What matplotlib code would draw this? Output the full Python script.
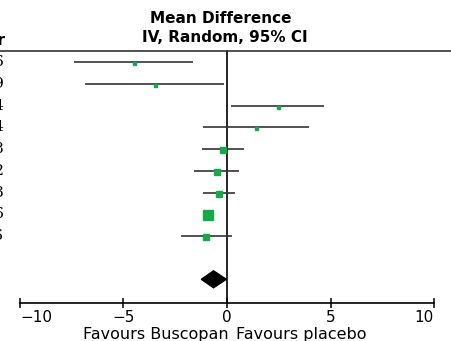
import matplotlib
matplotlib.use("Agg")
import matplotlib.pyplot as plt
from matplotlib.lines import Line2D
from matplotlib.patches import Polygon

# ---- data ----
years = ["1976", "1979", "1984", "1984", "1988", "1992", "1993", "1996", "2006"]
md = [-4.49, -3.48, 2.45, 1.40, -0.21, -0.50, -0.40, -0.90, -1.02]
ci_low = [-7.37, -6.86, 0.21, -1.18, -1.23, -1.60, -1.18, -1.05, -2.24]
ci_high = [-1.62, -0.13, 4.71, 3.97, 0.82, 0.58, 0.39, -0.75, 0.24]
weights = [1.6, 1.6, 1.6, 1.6, 3.0, 3.0, 3.4, 5.0, 3.0]  # relative square size
pooled = [-0.65, -1.24, -0.03]  # estimate, low, high
xticks = [-10, -5, 0, 5, 10]
xticklabels = ["\u221210", "\u22125", "0", "5", "10"]

W, H = 451, 341
fig = plt.figure(figsize=(W / 100, H / 100), dpi=100)

green = "#14aa48"

left_px, right_px = 20.0, 434.0
top_px, bot_px = 50.7, 303.3
ax = fig.add_axes([left_px / W, (H - bot_px) / H, (right_px - left_px) / W, (bot_px - top_px) / H])
row_h = 21.7
y_top = 1 - (62.3 - top_px) / row_h
y_bot = 1 + (bot_px - 62.3) / row_h
ax.set_xlim(-10, 10)
ax.set_ylim(y_bot, y_top)

for s in ["top", "left", "right"]:
    ax.spines[s].set_visible(False)
ax.spines["bottom"].set_linewidth(1.2)
ax.set_yticks([])
ax.set_xticks(xticks)
ax.set_xticklabels(xticklabels, fontsize=11)
ax.tick_params(axis="x", direction="inout", length=7, width=1.1, pad=1)
labs = ax.get_xticklabels()
labs[0].set_horizontalalignment("left")
labs[-1].set_horizontalalignment("right")
ax.patch.set_visible(False)

ax.axvline(0, color="black", lw=1.2, clip_on=False)

rows = list(range(1, len(md) + 1))
for r, m, lo, hi, w in zip(rows, md, ci_low, ci_high, weights):
    ax.plot([lo, hi], [r, r], color="#333333", lw=1.2, solid_capstyle="butt", zorder=2)
    ax.plot([m], [r + 0.05], marker="s", ms=w * 1.35, color=green, mec=green, zorder=3)

est, plo, phi = pooled
dr = len(md) + 2
hh = 0.39
ax.add_patch(Polygon([[plo, dr], [est, dr - hh], [phi, dr], [est, dr + hh]], closed=True,
                     facecolor="black", edgecolor="black", zorder=4))

fig.add_artist(Line2D([0, 1], [1 - top_px / H, 1 - top_px / H], color="#333333", lw=1.2,
                      transform=fig.transFigure))

fig.text(221 / W, 1 - 18.5 / H, "Mean Difference", ha="center", va="center",
         fontsize=11, fontweight="bold")
fig.text(225 / W, 1 - 37 / H, "IV, Random, 95% CI", ha="center", va="center",
         fontsize=11, fontweight="bold")

fig.text(5.5 / W, 1 - 40.6 / H, "Year", ha="right", va="center", fontsize=11, fontweight="bold")
for r, yv in zip(rows, years):
    ypx = 62.3 + (r - 1) * row_h
    fig.text(4 / W, 1 - ypx / H, yv, ha="right", va="center", fontsize=11, family="DejaVu Serif")

fig.text(229 / W, 1 - 338.5 / H, "Favours Buscopan", ha="right", va="baseline", fontsize=11.5)
fig.text(236 / W, 1 - 338.5 / H, "Favours placebo", ha="left", va="baseline", fontsize=11.5)

fig.savefig("out.png", dpi=100)
